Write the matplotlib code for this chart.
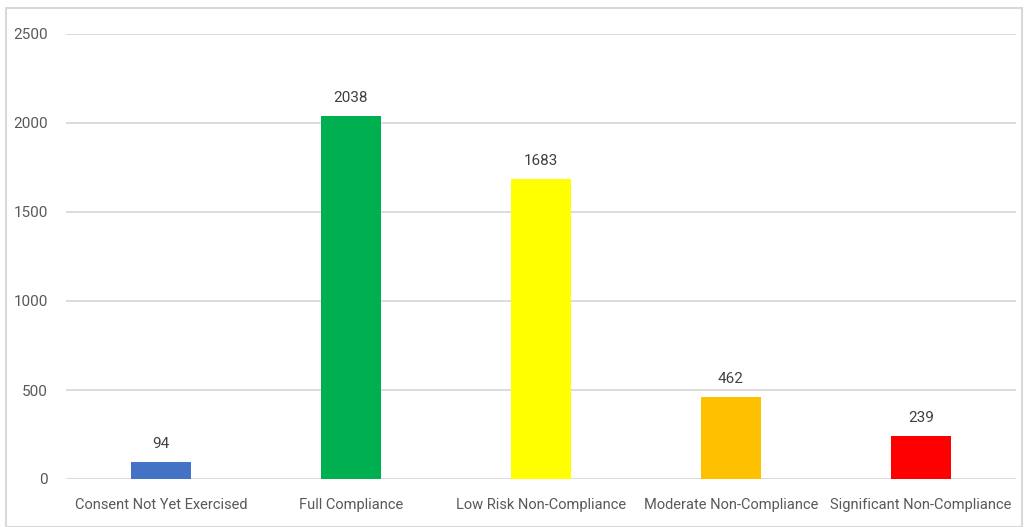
import matplotlib.pyplot as plt
from matplotlib.patches import Rectangle

plt.rcParams.update({
    "font.family": ["Roboto", "DejaVu Sans"],
    "font.size": 10.5,
})

categories = [
    "Consent Not Yet Exercised",
    "Full Compliance",
    "Low Risk Non-Compliance",
    "Moderate Non-Compliance",
    "Significant Non-Compliance",
]
counts = [94, 2038, 1683, 462, 239]
colors = ["#4472C4", "#00B050", "#FFFF00", "#FFC000", "#FF0000"]
yticks = [0, 500, 1000, 1500, 2000, 2500]

text_color = "#595959"
grid_color = "#D9D9D9"

fig = plt.figure(figsize=(10.27, 5.27), dpi=100)
ax = fig.add_axes([66 / 1027, 1 - 479 / 527, 950 / 1027, 445 / 527])

x = range(len(categories))
bars = ax.bar(x, counts, width=0.32, color=colors, zorder=3)

for rect, val in zip(bars, counts):
    ax.annotate(str(val), (rect.get_x() + rect.get_width() / 2, val),
                xytext=(0, 8), textcoords="offset points",
                ha="center", va="bottom", color="#404040", fontsize=11)

ax.set_xlim(-0.5, len(categories) - 0.5)
ax.set_ylim(0, 2500)
ax.set_yticks(yticks)
ax.set_xticks(list(x))
ax.set_xticklabels(categories)
ax.tick_params(axis="y", length=0, colors=text_color, labelsize=11, pad=13)
ax.tick_params(axis="x", length=0, colors=text_color, labelsize=10.5, pad=14)
ax.yaxis.grid(True, color=grid_color, linewidth=1.3, zorder=0)
for side in ["top", "right", "left", "bottom"]:
    ax.spines[side].set_visible(False)

# outer chart frame
fig.patches.append(Rectangle((6 / 1027, 0), 1016 / 1027, 519 / 527,
                             transform=fig.transFigure, fill=False,
                             edgecolor=grid_color, linewidth=1.5))

fig.savefig("out.png", dpi=100)
